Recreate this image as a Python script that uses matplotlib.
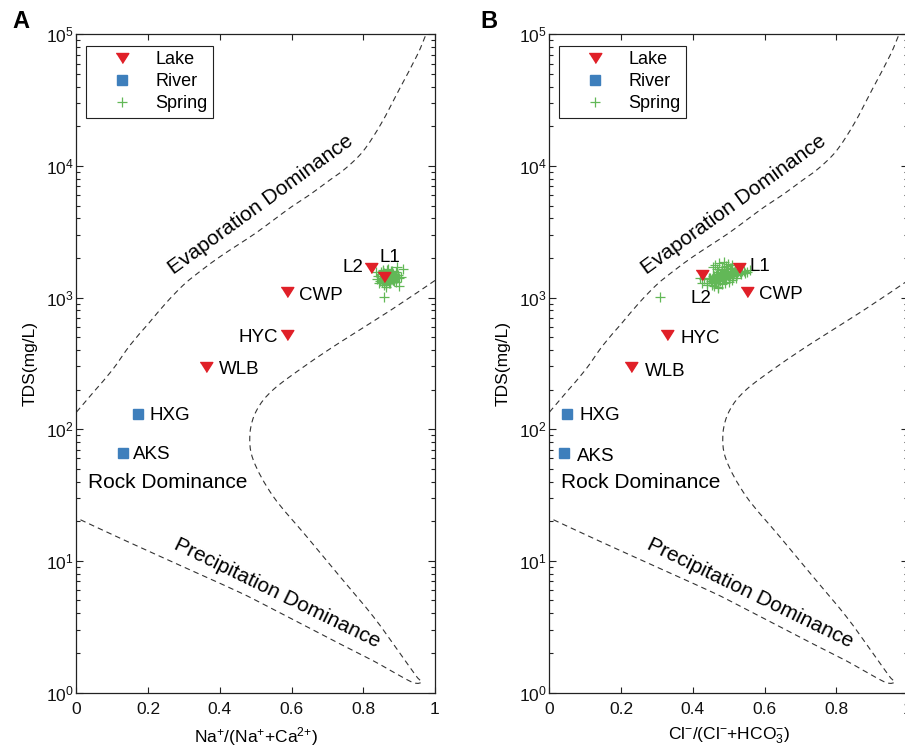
import matplotlib
matplotlib.use('Agg')
import numpy as np
import matplotlib.pyplot as plt
from matplotlib.path import Path
from matplotlib.patches import PathPatch
from matplotlib.ticker import LogLocator, NullFormatter, FixedLocator, FixedFormatter

plt.rcParams['font.family'] = ['Liberation Sans', 'DejaVu Sans']
plt.rcParams['mathtext.default'] = 'regular'

# ---------------- data ----------------
lake_names = ['L1', 'L2', 'CWP', 'HYC', 'WLB']
lake_na = [0.858, 0.821, 0.587, 0.587, 0.361]
lake_tds_a = [1445, 1672, 1100, 521, 296]
lake_cl = [0.528, 0.4245, 0.552, 0.327, 0.2265]
lake_tds_b = [1672, 1487, 1111, 521, 299]

river_names = ['HXG', 'AKS']
river_na = [0.171, 0.129]
river_cl = [0.0497, 0.0405]
river_tds = [131, 66.5]

spring_na = [0.838, 0.842, 0.846, 0.850, 0.853, 0.856, 0.859, 0.862, 0.865, 0.868,
             0.871, 0.874, 0.877, 0.880, 0.884, 0.888, 0.892, 0.896, 0.900, 0.905,
             0.845, 0.849, 0.852, 0.855, 0.858, 0.861, 0.864, 0.867, 0.870, 0.873,
             0.876, 0.879, 0.882, 0.886, 0.890, 0.894,
             0.848, 0.851, 0.854, 0.857, 0.860, 0.863, 0.866, 0.869, 0.872, 0.875,
             0.878, 0.881, 0.885,
             0.856, 0.860, 0.864, 0.868, 0.872, 0.876, 0.880, 0.858, 0.862, 0.866,
             0.870, 0.874, 0.878, 0.882,
             0.912, 0.893, 0.858, 0.835, 0.899, 0.870, 0.862]
spring_tds_a = [1380, 1450, 1330, 1500, 1420, 1360, 1550, 1300, 1470, 1390,
                1520, 1340, 1440, 1580, 1370, 1460, 1320, 1490, 1410, 1430,
                1280, 1560, 1400, 1610, 1350, 1480, 1260, 1540, 1420, 1300,
                1600, 1380, 1500, 1330, 1560, 1400,
                1470, 1310, 1590, 1250, 1520, 1440, 1620, 1360, 1480, 1290,
                1450, 1530, 1380,
                1420, 1380, 1450, 1400, 1360, 1470, 1420, 1340, 1500, 1430,
                1390, 1460, 1410, 1350,
                1640, 1700, 1010, 1560, 1230, 1650, 1200]

spring_cl = [0.425, 0.432, 0.438, 0.444, 0.450, 0.455, 0.460, 0.465, 0.470, 0.475,
             0.480, 0.485, 0.490, 0.495, 0.500, 0.505, 0.510, 0.515, 0.520, 0.527,
             0.534, 0.542, 0.550, 0.558,
             0.440, 0.447, 0.453, 0.458, 0.463, 0.468, 0.473, 0.478, 0.483, 0.488,
             0.493, 0.498, 0.503, 0.508, 0.513, 0.518, 0.524, 0.530, 0.538,
             0.445, 0.452, 0.458, 0.464, 0.470, 0.476, 0.482, 0.488, 0.494, 0.500,
             0.506, 0.512, 0.518,
             0.455, 0.462, 0.468, 0.474, 0.480, 0.486, 0.492, 0.498, 0.504, 0.510,
             0.460, 0.470, 0.480, 0.490, 0.500, 0.510, 0.520, 0.466, 0.476, 0.486,
             0.496, 0.506,
             0.308, 0.420, 0.470, 0.545]
spring_tds_b = [1300, 1380, 1290, 1420, 1330, 1460, 1350, 1480, 1390, 1500,
                1380, 1520, 1410, 1540, 1440, 1550, 1460, 1570, 1490, 1580,
                1510, 1600, 1560, 1610,
                1250, 1410, 1300, 1470, 1320, 1510, 1360, 1530, 1400, 1560,
                1420, 1590, 1450, 1600, 1470, 1630, 1500, 1560, 1580,
                1380, 1240, 1440, 1290, 1560, 1330, 1620, 1380, 1650, 1420,
                1680, 1460, 1640,
                1720, 1780, 1650, 1820, 1700, 1850, 1740, 1800, 1690, 1760,
                1230, 1200, 1260, 1290, 1310, 1350, 1400, 1500, 1470, 1530,
                1510, 1560,
                1010, 1420, 1190, 1530]

# Gibbs boundaries
evap_x = [0.0, 0.05, 0.10, 0.15, 0.20, 0.25, 0.30, 0.35, 0.40, 0.45, 0.50,
          0.55, 0.60, 0.65, 0.70, 0.75, 0.80, 0.85, 0.90, 0.95, 0.975]
evap_tds = [135, 195, 282, 437, 631, 912, 1259, 1622, 2042, 2512, 3090,
            3890, 4898, 6026, 7586, 9550, 13000, 21000, 38020, 69180, 100000]

rock_x = [1.0, 0.874, 0.735, 0.642, 0.549, 0.503, 0.484, 0.493, 0.549, 0.642,
          0.735, 0.828, 0.902, 0.949, 0.963, 0.939, 0.874, 0.828, 0.735, 0.529,
          0.456, 0.326, 0.140, 0.0]
rock_tds = [1349, 794, 457, 309, 200, 140, 93.3, 58.5, 30.8, 15.3,
            7.59, 3.77, 1.99, 1.318, 1.208, 1.19, 1.48, 1.74, 2.34, 4.57,
            5.75, 8.32, 14.1, 21.2]

x_ticks = [0, 0.2, 0.4, 0.6, 0.8, 1.0]
x_tick_labels = ['0', '0.2', '0.4', '0.6', '0.8', '1']
xlabel_a = r'Na$^{+}$/(Na$^{+}$+Ca$^{2{+}}$)'
xlabel_b = r'Cl$^{-}$/(Cl$^{-}$+HCO$_3^{-}$)'
ylabel = 'TDS(mg/L)'

# ---------------- style ----------------
RED = '#E02028'
BLUE = '#3E7FBC'
GREEN = '#62B857'
AXC = '#222222'
lake_marker = [(-1, 0.79), (1, 0.79), (0, -0.79)]

fig = plt.figure(figsize=(9.05, 7.54), dpi=100)
axA = fig.add_axes([0.08453, 0.08156, 0.39613, 0.87294])
axB = fig.add_axes([0.60718, 0.08156, 0.39613, 0.87294])


def smooth_path(xs, ys):
    """Smooth Bezier path through the read points (x linear, y logarithmic)."""
    lx = np.asarray(xs, float)
    ly = np.log10(np.asarray(ys, float))
    n = len(lx)
    verts = [(lx[0], 10 ** ly[0])]
    codes = [Path.MOVETO]
    for i in range(n - 1):
        a = i - 1 if i > 0 else i
        d = i + 2 if i + 2 < n else i + 1
        c1 = (lx[i] + (lx[i + 1] - lx[a]) / 6, ly[i] + (ly[i + 1] - ly[a]) / 6)
        c2 = (lx[i + 1] - (lx[d] - lx[i]) / 6, ly[i + 1] - (ly[d] - ly[i]) / 6)
        verts += [(c1[0], 10 ** c1[1]), (c2[0], 10 ** c2[1]),
                  (lx[i + 1], 10 ** ly[i + 1])]
        codes += [Path.CURVE4] * 3
    return Path(verts, codes)


def style(ax, xlabel):
    ax.set_yscale('log')
    ax.set_xlim(0, 1)
    ax.set_ylim(1, 1e5)
    ax.xaxis.set_major_locator(FixedLocator(x_ticks))
    ax.xaxis.set_major_formatter(FixedFormatter(x_tick_labels))
    ax.yaxis.set_major_locator(LogLocator(base=10, numticks=10))
    ax.yaxis.set_minor_locator(LogLocator(base=10, subs=range(2, 10), numticks=20))
    ax.yaxis.set_minor_formatter(NullFormatter())
    ax.tick_params(which='both', direction='in', top=True, right=True,
                   colors=AXC, width=0.8)
    ax.tick_params(axis='x', which='major', length=4.5, pad=7, labelsize=12.5)
    ax.tick_params(axis='y', which='major', length=4.8, pad=2, labelsize=12.5)
    ax.tick_params(axis='y', which='minor', length=2.8)
    ax.tick_params(labelcolor='#111111')
    for s in ax.spines.values():
        s.set_linewidth(0.9)
        s.set_color(AXC)
    ax.set_xlabel(xlabel, fontsize=12.5, labelpad=6)
    ax.set_ylabel(ylabel, fontsize=12.5, labelpad=6)


def curves(ax):
    kw = dict(edgecolor='#333333', facecolor='none', lw=0.8,
              linestyle=(0, (5, 3.6)))
    ax.add_patch(PathPatch(smooth_path(evap_x, evap_tds), **kw))
    ax.add_patch(PathPatch(smooth_path(rock_x, rock_tds), **kw))
    ax.text(0.5227, 4713, 'Evaporation Dominance', rotation=36,
            rotation_mode='anchor', ha='center', va='baseline', fontsize=15)
    ax.text(0.254, 35.9, 'Rock Dominance', ha='center', va='baseline', fontsize=15)
    ax.text(0.554, 5.17, 'Precipitation Dominance', rotation=-26,
            rotation_mode='anchor', ha='center', va='baseline', fontsize=15)


def points(ax, sx, sy, rx, lx, ly, lab_off):
    hs, = ax.plot(sx, sy, linestyle='none', marker='+', ms=7.2, mew=0.9,
                  color=GREEN, label='Spring')
    hr, = ax.plot(rx, river_tds, linestyle='none', marker='s', ms=7.2,
                  color=BLUE, mec=BLUE, label='River')
    hl, = ax.plot(lx, ly, linestyle='none', marker=lake_marker, ms=9.1,
                  color=RED, mec=RED, label='Lake')
    names = lake_names + river_names
    xs = list(lx) + list(rx)
    ys = list(ly) + list(river_tds)
    for n, x, y in zip(names, xs, ys):
        dx, dy, ha = lab_off[n]
        ax.annotate(n, (x, y), xytext=(dx, dy), textcoords='offset pixels',
                    ha=ha, va='baseline', fontsize=13.5)
    leg = ax.legend(handles=[hl, hr, hs], loc='upper left',
                    bbox_to_anchor=(0.0265, 0.9822), borderaxespad=0,
                    fontsize=13, frameon=True, fancybox=False,
                    edgecolor=AXC, framealpha=1, borderpad=0.3,
                    handlelength=3.4, handletextpad=0.15, labelspacing=0.27)
    leg.get_frame().set_linewidth(0.8)


off_a = {'L1': (-5, 15, 'left'), 'L2': (-7.4, -3.4, 'right'),
         'CWP': (12, -8, 'left'), 'HYC': (-8.7, -6.7, 'right'),
         'WLB': (13, -6.7, 'left'), 'HXG': (11.6, -6, 'left'),
         'AKS': (10.6, -6.3, 'left')}
off_b = {'L1': (10.6, -2.4, 'left'), 'L2': (-11, -28.3, 'left'),
         'CWP': (12, -7.6, 'left'), 'HYC': (13.3, -8.3, 'left'),
         'WLB': (14.3, -9.3, 'left'), 'HXG': (12, -6, 'left'),
         'AKS': (12.7, -8.4, 'left')}

for ax, xl in ((axA, xlabel_a), (axB, xlabel_b)):
    style(ax, xl)
    curves(ax)

points(axA, spring_na, spring_tds_a, river_na, lake_na, lake_tds_a, off_a)
points(axB, spring_cl, spring_tds_b, river_cl, lake_cl, lake_tds_b, off_b)

fig.text(21 / 905, 1 - 21.5 / 754, 'A', ha='center', va='center',
         fontsize=17, fontweight='bold')
fig.text(489 / 905, 1 - 21.5 / 754, 'B', ha='center', va='center',
         fontsize=17, fontweight='bold')

fig.savefig('out.png', dpi=100)
